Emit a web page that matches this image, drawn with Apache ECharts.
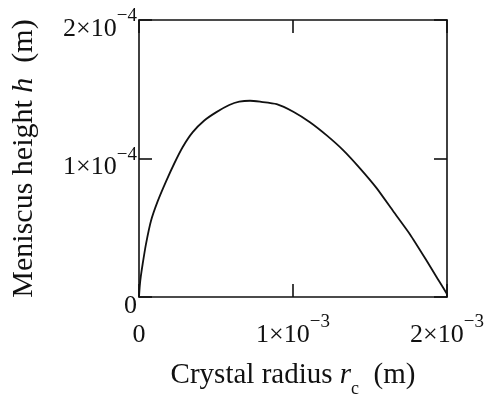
<!DOCTYPE html>
<html>
<head>
<meta charset="utf-8">
<script src="https://cdn.jsdelivr.net/npm/echarts@6/dist/echarts.min.js"></script>
<style>html,body{margin:0;padding:0;background:#fff;}#c{width:488px;height:403px;}</style>
</head>
<body>
<div id="c"></div>
<script>
// Crystal radius r_c (m)
const radius = [0, 0.005e-3, 0.012e-3, 0.024e-3, 0.045e-3, 0.078e-3, 0.121e-3, 0.175e-3, 0.229e-3, 0.284e-3, 0.349e-3, 0.424e-3, 0.5e-3, 0.586e-3, 0.651e-3, 0.721e-3, 0.786e-3, 0.894e-3, 1.002e-3, 1.11e-3, 1.219e-3, 1.327e-3, 1.435e-3, 1.543e-3, 1.651e-3, 1.76e-3, 1.868e-3, 1.933e-3, 1.998e-3, 2.0e-3];
// Meniscus height h (m)
const height = [0, 0.08e-4, 0.15e-4, 0.24e-4, 0.38e-4, 0.55e-4, 0.69e-4, 0.833e-4, 0.964e-4, 1.083e-4, 1.19e-4, 1.274e-4, 1.333e-4, 1.386e-4, 1.41e-4, 1.417e-4, 1.41e-4, 1.393e-4, 1.338e-4, 1.262e-4, 1.167e-4, 1.059e-4, 0.929e-4, 0.786e-4, 0.619e-4, 0.452e-4, 0.262e-4, 0.143e-4, 0.024e-4, 0];
const xTickValues = [0, 1e-3, 2e-3];
const xTickBase = ['0', '1×10', '2×10'];
const xTickExp = ['', '−3', '−3'];
const yTickValues = [0, 1e-4, 2e-4];
const yTickBase = ['0', '1×10', '2×10'];
const yTickExp = ['', '−4', '−4'];

const FONT = '"Liberation Serif", "Times New Roman", serif';
function tickFmt(values, base, exp) {
  return function (v) {
    let idx = -1;
    for (let i = 0; i < values.length; i++) if (Math.abs(values[i] - v) < 1e-12) idx = i;
    if (idx < 0) return '';
    return '{b|' + base[idx] + '}' + (exp[idx] ? '{sup|' + exp[idx] + '}' : '');
  };
}
const tickRich = {
  b: { fontFamily: FONT, fontSize: 26, lineHeight: 26, padding: [9, 0, 0, 0], verticalAlign: 'top', color: '#111' },
  sup: { fontFamily: FONT, fontSize: 19, lineHeight: 19, verticalAlign: 'top', color: '#111' }
};
const axisLine = { show: true, onZero: false, lineStyle: { color: '#111', width: 1.6 } };
const axisTick = { show: true, inside: true, length: 13, lineStyle: { color: '#111', width: 1.6 } };

const chart = echarts.init(document.getElementById('c'), null, { renderer: 'canvas' });
chart.setOption({
  animation: false,
  backgroundColor: '#fff',
  grid: { left: 139, right: 41, top: 20, bottom: 103, containLabel: false },
  xAxis: [{
    type: 'value', min: 0, max: 2e-3, interval: 1e-3,
    axisLine, axisTick, splitLine: { show: false },
    axisLabel: { margin: 16, formatter: tickFmt(xTickValues, xTickBase, xTickExp), rich: tickRich },
    name: '{a|Crystal radius }{i|r}{sub|c}{a|  (m)}', nameLocation: 'middle', nameGap: 64,
    nameMoveOverlap: false,
    nameTextStyle: {
      rich: {
        a: { fontFamily: FONT, fontSize: 29, lineHeight: 30, verticalAlign: 'top', color: '#111' },
        i: { fontFamily: FONT, fontSize: 29, lineHeight: 30, verticalAlign: 'top', fontStyle: 'italic', color: '#111' },
        sub: { fontFamily: FONT, fontSize: 18, lineHeight: 18, padding: [19, 0, 0, 0], verticalAlign: 'top', color: '#111' }
      }
    }
  }, {
    type: 'value', position: 'top', min: 0, max: 2e-3, interval: 1e-3,
    axisLine, axisTick, axisLabel: { show: false }, splitLine: { show: false }
  }],
  yAxis: [{
    type: 'value', min: 0, max: 2e-4, interval: 1e-4,
    axisLine, axisTick, splitLine: { show: false },
    axisLabel: { margin: 2, formatter: tickFmt(yTickValues, yTickBase, yTickExp), rich: tickRich },
    name: '{a|Meniscus height }{i|h}{a|  (m)}', nameLocation: 'middle', nameRotate: 90, nameGap: 100,
    nameMoveOverlap: false,
    nameTextStyle: {
      rich: {
        a: { fontFamily: FONT, fontSize: 30, lineHeight: 30, color: '#111' },
        i: { fontFamily: FONT, fontSize: 30, lineHeight: 30, fontStyle: 'italic', color: '#111' }
      }
    }
  }, {
    type: 'value', position: 'right', min: 0, max: 2e-4, interval: 1e-4,
    axisLine, axisTick, axisLabel: { show: false }, splitLine: { show: false }
  }],
  series: [{
    type: 'line',
    data: radius.map((r, i) => [r, height[i]]),
    smooth: 0.2,
    showSymbol: false,
    lineStyle: { color: '#111', width: 1.8 }
  }]
});
</script>
</body>
</html>
